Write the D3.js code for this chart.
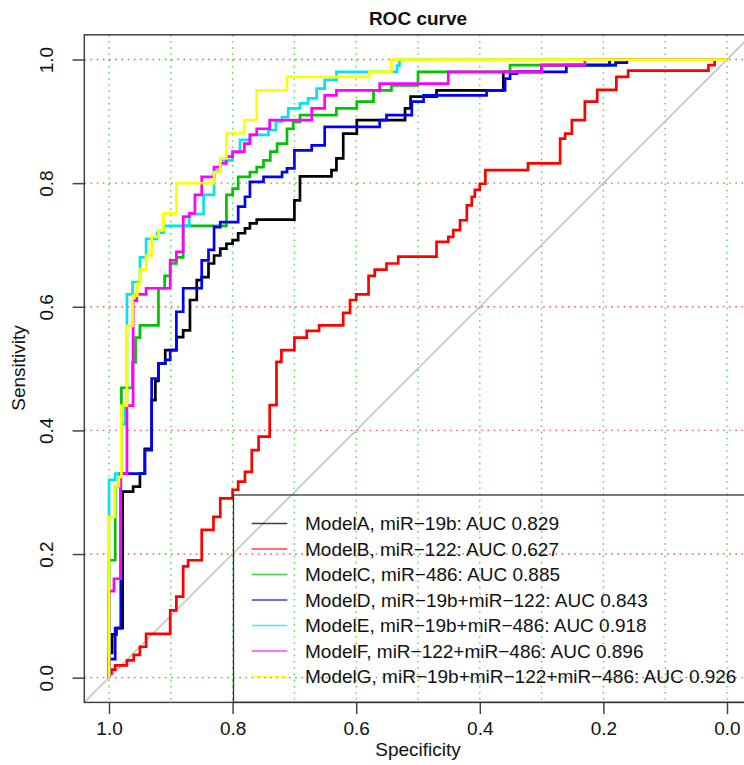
<!DOCTYPE html>
<html><head><meta charset="utf-8">
<script src="https://cdn.jsdelivr.net/npm/d3@7"></script>
<style>
body{margin:0;background:#fff}
svg{display:block}
text{font-family:"Liberation Sans",Arial,Helvetica,sans-serif;fill:#111}
</style>
</head><body>
<svg id="chart" width="744" height="765"></svg>
<script>
// ---- data ----
const xTickValues = [1.0, 0.8, 0.6, 0.4, 0.2, 0.0];
const yTickValues = [0.0, 0.2, 0.4, 0.6, 0.8, 1.0];
const xGridValues = [1.0, 0.9, 0.8, 0.7, 0.6, 0.5, 0.4, 0.3, 0.2, 0.1, 0.0];
const yGridValues = [0.0, 0.2, 0.4, 0.6, 0.8, 1.0];
const modelNames = ["ModelA, miR\u221219b", "ModelB, miR\u2212122", "ModelC, miR\u2212486",
  "ModelD, miR\u221219b+miR\u2212122", "ModelE, miR\u221219b+miR\u2212486",
  "ModelF, miR\u2212122+miR\u2212486", "ModelG, miR\u221219b+miR\u2212122+miR\u2212486"];
const aucValues = [0.829, 0.627, 0.885, 0.843, 0.918, 0.896, 0.926];
const modelColors = ["#000000", "#ff0000", "#00c400", "#0000ff", "#00e5ee", "#ff00ff", "#ffff00"];

// [specificity, sensitivity] corner points (step curves)
const modelA = [[1,0],[1,0.04],[0.995,0.07],[0.988,0.08],[0.978,0.301],[0.961,0.309],[0.95,0.33],[0.942,0.37],[0.931,0.449],[0.925,0.48],[0.92,0.508],[0.909,0.53],[0.891,0.551],[0.88,0.562],[0.869,0.611],[0.858,0.643],[0.85,0.648],[0.839,0.67],[0.83,0.683],[0.82,0.694],[0.81,0.702],[0.8,0.708],[0.791,0.719],[0.78,0.727],[0.772,0.735],[0.761,0.741],[0.7,0.772],[0.691,0.811],[0.64,0.821],[0.632,0.84],[0.621,0.88],[0.599,0.902],[0.521,0.921],[0.512,0.94],[0.47,0.95],[0.362,0.98],[0.3,0.991],[0.19,1],[0,1]];
const modelB = [[1,0],[1,0.007],[0.996,0.013],[0.99,0.02],[0.971,0.028],[0.96,0.037],[0.95,0.05],[0.94,0.071],[0.901,0.109],[0.891,0.131],[0.88,0.18],[0.872,0.19],[0.85,0.239],[0.831,0.26],[0.82,0.29],[0.8,0.304],[0.791,0.317],[0.78,0.333],[0.769,0.368],[0.758,0.39],[0.74,0.441],[0.729,0.511],[0.721,0.53],[0.7,0.55],[0.68,0.561],[0.66,0.57],[0.621,0.59],[0.61,0.611],[0.6,0.62],[0.58,0.65],[0.57,0.66],[0.551,0.67],[0.532,0.681],[0.47,0.705],[0.451,0.713],[0.443,0.724],[0.432,0.74],[0.421,0.764],[0.413,0.778],[0.408,0.789],[0.4,0.799],[0.391,0.821],[0.322,0.832],[0.27,0.872],[0.262,0.88],[0.251,0.902],[0.23,0.932],[0.21,0.951],[0.179,0.972],[0.16,0.982],[0.03,0.991],[0.02,1],[0,1]];
const modelC = [[1,0],[1,0.19],[0.99,0.31],[0.984,0.33],[0.98,0.469],[0.962,0.51],[0.957,0.55],[0.95,0.57],[0.92,0.63],[0.91,0.65],[0.901,0.67],[0.891,0.68],[0.88,0.731],[0.81,0.781],[0.8,0.791],[0.791,0.81],[0.772,0.818],[0.761,0.826],[0.75,0.837],[0.739,0.851],[0.728,0.864],[0.712,0.888],[0.702,0.899],[0.691,0.91],[0.632,0.921],[0.599,0.932],[0.572,0.95],[0.543,0.958],[0.5,0.98],[0.351,0.991],[0.18,1],[0,1]];
const modelD = [[1,0],[1,0.03],[0.99,0.08],[0.981,0.33],[0.942,0.368],[0.931,0.484],[0.92,0.508],[0.909,0.514],[0.901,0.53],[0.891,0.592],[0.88,0.63],[0.85,0.675],[0.839,0.692],[0.83,0.729],[0.82,0.737],[0.791,0.762],[0.78,0.778],[0.772,0.802],[0.75,0.81],[0.72,0.818],[0.712,0.824],[0.7,0.853],[0.672,0.861],[0.651,0.891],[0.562,0.902],[0.551,0.91],[0.51,0.932],[0.491,0.942],[0.389,0.95],[0.359,0.969],[0.351,0.977],[0.34,0.98],[0.26,0.991],[0.18,0.995],[0.162,1],[0,1]];
const modelE = [[1,0],[1,0.32],[0.99,0.33],[0.98,0.41],[0.974,0.44],[0.971,0.62],[0.962,0.64],[0.95,0.68],[0.94,0.71],[0.922,0.72],[0.911,0.731],[0.87,0.75],[0.847,0.781],[0.83,0.82],[0.82,0.837],[0.8,0.85],[0.788,0.87],[0.772,0.878],[0.742,0.886],[0.73,0.9],[0.72,0.907],[0.71,0.921],[0.691,0.929],[0.678,0.937],[0.664,0.953],[0.651,0.967],[0.632,0.98],[0.534,0.99],[0.53,1],[0,1]];
const modelF = [[1,0],[1,0.14],[0.992,0.16],[0.981,0.33],[0.971,0.44],[0.961,0.61],[0.955,0.62],[0.94,0.63],[0.901,0.675],[0.891,0.689],[0.88,0.746],[0.87,0.751],[0.861,0.781],[0.85,0.81],[0.83,0.826],[0.82,0.832],[0.81,0.843],[0.8,0.851],[0.781,0.864],[0.772,0.878],[0.761,0.888],[0.74,0.902],[0.672,0.921],[0.651,0.942],[0.632,0.95],[0.562,0.961],[0.451,0.98],[0.3,0.991],[0.23,1],[0,1]];
const modelG = [[1,0],[1,0.26],[0.991,0.31],[0.984,0.325],[0.98,0.44],[0.971,0.569],[0.962,0.618],[0.954,0.637],[0.95,0.66],[0.94,0.683],[0.931,0.713],[0.92,0.724],[0.912,0.751],[0.891,0.8],[0.83,0.818],[0.82,0.84],[0.81,0.881],[0.781,0.902],[0.761,0.95],[0.712,0.972],[0.579,0.98],[0.543,1],[0,1]];
const curves = [modelA, modelB, modelC, modelD, modelE, modelF, modelG];

// ---- layout ----
const svg = d3.select("#chart");
const x = d3.scaleLinear().domain([1.04, -0.04]).range([84.3, 751.7]);
const y = d3.scaleLinear().domain([-0.04, 1.04]).range([702.4, 34.8]);
const FS = 19;

svg.append("rect").attr("width", 744).attr("height", 765).attr("fill", "#fff");

// grid
svg.append("g").selectAll("line").data(xGridValues).join("line")
  .attr("x1", d => x(d)).attr("x2", d => x(d))
  .attr("y1", y.range()[1]).attr("y2", y.range()[0])
  .attr("stroke", "#55d655").attr("stroke-width", 1.4)
  .attr("stroke-dasharray", "1.6,4.6");
svg.append("g").selectAll("line").data(yGridValues).join("line")
  .attr("y1", d => y(d)).attr("y2", d => y(d))
  .attr("x1", x.range()[0]).attr("x2", x.range()[1])
  .attr("stroke", "#f05a5a").attr("stroke-width", 1.4)
  .attr("stroke-dasharray", "1.6,4.6");

// diagonal
svg.append("line")
  .attr("x1", x(1.04)).attr("y1", y(-0.04))
  .attr("x2", x(-0.04)).attr("y2", y(1.04))
  .attr("stroke", "#b8b8b8").attr("stroke-width", 1.3);

// curves
const line = d3.line().x(d => x(d[0])).y(d => y(d[1])).curve(d3.curveStepAfter);
svg.append("g").selectAll("path").data(curves).join("path")
  .attr("d", line)
  .attr("fill", "none")
  .attr("stroke", (d, i) => modelColors[i])
  .attr("stroke-width", 2.7)
  .attr("stroke-linejoin", "miter");

// box
svg.append("rect")
  .attr("x", x.range()[0]).attr("y", y.range()[1])
  .attr("width", x.range()[1] - x.range()[0])
  .attr("height", y.range()[0] - y.range()[1])
  .attr("fill", "none").attr("stroke", "#444").attr("stroke-width", 1.5);

// axes
const xAxis = svg.append("g").attr("transform", `translate(0,${y.range()[0]})`)
  .call(d3.axisBottom(x).tickValues(xTickValues).tickFormat(d3.format(".1f")).tickSize(11.7).tickPadding(7.9));
const yAxis = svg.append("g").attr("transform", `translate(${x.range()[0]},0)`)
  .call(d3.axisLeft(y).tickValues(yTickValues).tickFormat(d3.format(".1f")).tickSize(11.7));
[xAxis, yAxis].forEach(g => {
  g.select(".domain").remove();
  g.selectAll(".tick line").attr("stroke", "#444").attr("stroke-width", 1.5);
  g.selectAll(".tick text").attr("font-size", FS).attr("fill", "#111")
    .style("font-family", '"Liberation Sans",Arial,Helvetica,sans-serif');
});
yAxis.selectAll(".tick text")
  .attr("transform", "rotate(-90)")
  .attr("x", 0).attr("y", -31).attr("dy", 0)
  .attr("text-anchor", "middle");

// titles
svg.append("text").attr("x", 418).attr("y", 24.5).attr("text-anchor", "middle")
  .attr("font-size", FS).attr("font-weight", "bold").text("ROC curve");
svg.append("text").attr("x", 418).attr("y", 756).attr("text-anchor", "middle")
  .attr("font-size", FS).text("Specificity");
svg.append("text").attr("transform", "translate(25,368) rotate(-90)").attr("text-anchor", "middle")
  .attr("font-size", FS).text("Sensitivity");

// legend
const lg = svg.append("g");
lg.append("rect").attr("x", 233.5).attr("y", 495)
  .attr("width", x.range()[1] - 233.5).attr("height", y.range()[0] - 495)
  .attr("fill", "none").attr("stroke", "#333").attr("stroke-width", 1.3);
const rows = lg.selectAll("g.row").data(modelNames).join("g").attr("class", "row")
  .attr("transform", (d, i) => `translate(0,${523.5 + i * 25.5})`);
rows.append("line").attr("x1", 251.7).attr("x2", 287.3)
  .attr("stroke", (d, i) => modelColors[i]).attr("stroke-width", 1.5).attr("opacity", 0.75);
rows.append("text").attr("x", 305).attr("dy", "0.36em").attr("font-size", FS)
  .text((d, i) => `${d}: AUC ${aucValues[i].toFixed(3)}`);
</script>
</body></html>
